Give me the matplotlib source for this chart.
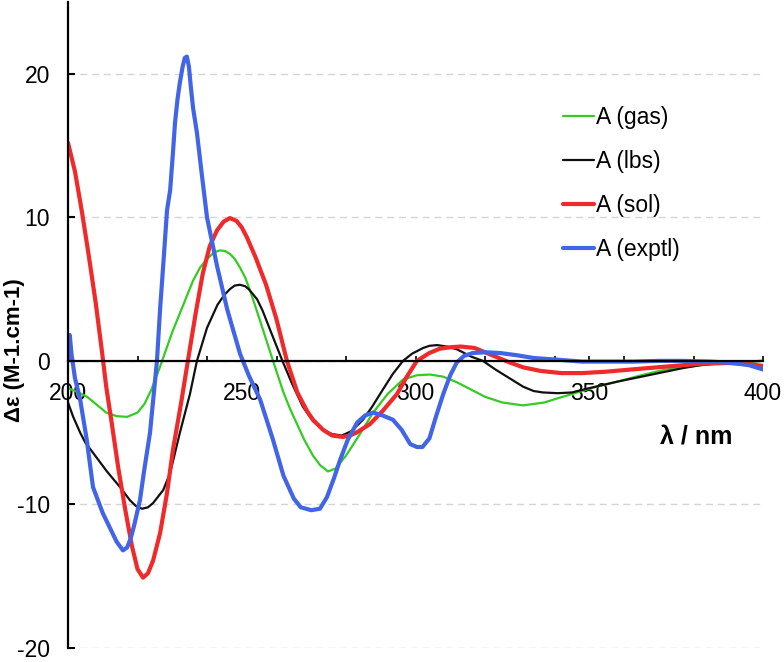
import matplotlib
matplotlib.use("Agg")
import matplotlib.pyplot as plt
from matplotlib.ticker import MultipleLocator

plt.rcParams['font.family'] = ['Liberation Sans', 'DejaVu Sans']
plt.rcParams['axes.unicode_minus'] = False

# ---- data ----
gas_x = [200, 203, 205.5, 208, 211, 214, 217, 220, 222, 224, 226.5, 230, 233, 236, 238, 240, 242,
         243.7, 245.2, 246.6, 248, 249.5, 251, 252.4, 255, 257, 259, 262, 264, 265.9, 268, 270.5,
         272.5, 274.8, 277, 280, 284, 287.8, 292, 296.4, 300.4, 304.2, 308, 312, 316, 320, 325,
         331, 337, 341, 346.5, 352, 358, 365, 372, 377, 382, 386, 391, 395, 400]
gas_y = [-1.9, -2.2, -2.5, -3.0, -3.6, -3.85, -3.9, -3.6, -3.0, -2.0, -0.4, 2.0, 3.8, 5.6, 6.5, 7.1, 7.55,
         7.7, 7.65, 7.45, 7.1, 6.5, 5.8, 4.9, 3.0, 1.5, 0.0, -2.2, -3.4, -4.4, -5.5, -6.6,
         -7.25, -7.7, -7.5, -6.6, -5.1, -3.6, -2.3, -1.3, -1.0, -0.95, -1.1, -1.5, -2.0, -2.5, -2.9,
         -3.1, -2.9, -2.6, -2.2, -1.8, -1.45, -1.0, -0.6, -0.45, -0.3, -0.2, -0.08, -0.05, 0.0]

lbs_x = [200, 201.5, 203.5, 205, 207.2, 211.2, 215, 217.8, 219.5, 221.3, 223, 224.5, 227.4, 229.4,
         232.2, 235.1, 237.1, 240, 243, 245, 246.6, 248, 249.5, 251, 252, 254.4, 256, 258.1, 261.7,
         264.5, 267.6, 270.5, 273.4, 276, 278.8, 281.5, 284.9, 287.5, 290.6, 293.5, 296.4, 299,
         302.2, 304, 306.2, 309, 312, 316, 319.4, 323, 327, 331, 334, 336.7, 341, 345, 350, 358,
         365, 372, 377, 382, 388, 394, 400]
lbs_y = [-2.9, -3.9, -5.0, -5.7, -6.4, -7.7, -8.8, -9.7, -10.1, -10.3, -10.2, -9.9, -9.0, -7.8,
         -5.0, -2.3, 0.0, 2.3, 3.9, 4.6, 5.0, 5.25, 5.3, 5.2, 5.0, 4.3, 3.5, 2.2, 0.0,
         -1.6, -3.2, -4.2, -4.8, -5.1, -5.2, -4.9, -4.1, -3.2, -2.0, -0.9, 0.0, 0.5,
         0.9, 1.05, 1.1, 1.0, 0.8, 0.3, 0.0, -0.6, -1.2, -1.8, -2.1, -2.2, -2.25, -2.2, -1.9, -1.45,
         -1.1, -0.75, -0.5, -0.3, -0.15, -0.05, 0.0]

sol_x = [200, 202, 204, 206, 208, 209.8, 211, 212.5, 214.5, 216.5, 218.4, 220, 221.6, 223, 224.5,
         226.5, 228.5, 230.2, 232.5, 234.5, 236.8, 238.8, 240.8, 242.9, 244.8, 246.6, 248.5, 250,
         251.5, 254, 257, 260, 263, 266, 268.8, 270.5, 273.4, 276, 279.1, 281, 283, 286.9, 290.5,
         294.7, 297.5, 300.4, 304, 307, 310, 313, 317, 320, 324, 327, 331, 336, 342, 348, 355,
         362, 372, 382, 390, 395, 400]
sol_y = [15.2, 13.2, 10.4, 7.3, 4.0, 0.6, -1.8, -4.2, -7.5, -10.4, -12.9, -14.5, -15.1, -14.8, -13.9,
         -12.0, -9.2, -6.2, -3.0, 0.0, 3.4, 6.1, 8.0, 9.1, 9.7, 9.95, 9.75, 9.3,
         8.6, 7.2, 5.3, 2.9, 0.0, -2.2, -3.5, -4.1, -4.8, -5.2, -5.3, -5.2, -5.0, -4.4, -3.5,
         -2.3, -1.1, 0.0, 0.55, 0.85, 0.95, 1.0, 0.9, 0.6, 0.2, -0.1, -0.45, -0.7, -0.85, -0.85, -0.75,
         -0.6, -0.4, -0.2, -0.15, -0.2, -0.35]

exp_x = [200, 200.5, 201, 202, 203.5, 205.4, 207.2, 210, 212, 214, 215.8, 217, 218, 219, 220.7,
         222, 223.6, 225.6, 226.5, 227.5, 228.5, 229.4, 230.2, 230.8, 231.5, 232.2, 233, 233.6, 234.2,
         234.8, 235.3, 236, 237.1, 238.5, 240, 242.9, 245.8, 249.5, 252, 255.3, 259, 262, 265, 267,
         270, 272.5, 274.5, 276.5, 278.3, 280.5, 283.2, 285.5, 287.8, 290.5, 293.5, 296, 298.5,
         300.4, 302, 304, 306, 308, 310, 311.9, 314, 316.5, 320, 324.3, 329, 334, 340, 348,
         355, 362.6, 370, 377, 385, 391.4, 396, 400]
exp_y = [0.0, 1.8, 0.5, -1.2, -2.7, -5.5, -8.8, -10.6, -11.6, -12.6, -13.2, -13.0, -12.4, -11.5, -9.7,
         -7.5, -5.0, 0.0, 3.6, 7.0, 10.5, 11.9, 14.5, 16.6, 18.2, 19.4, 20.5, 21.1, 21.2,
         20.5, 19.2, 17.6, 15.9, 13.0, 10.0, 6.6, 3.6, 0.5, -1.0, -2.7, -5.5, -8.0, -9.6, -10.2,
         -10.4, -10.3, -9.5, -8.2, -6.9, -5.5, -4.3, -3.8, -3.6, -3.8, -4.1, -4.8, -5.8,
         -6.0, -6.0, -5.4, -3.8, -2.3, -1.0, -0.1, 0.35, 0.55, 0.6, 0.55, 0.4, 0.2, 0.1, -0.05,
         -0.05, -0.05, 0.0, 0.0, -0.05, -0.15, -0.3, -0.6]

labels = ["A (gas)", "A (lbs)", "A (sol)", "A (exptl)"]
y_ticks = [-20, -10, 0, 10, 20]
x_ticks = [200, 250, 300, 350, 400]

# ---- figure ----
W, H = 784, 662
fig = plt.figure(figsize=(W / 100, H / 100), dpi=100)
ax = fig.add_axes([68 / W, 1 - 648 / H, (763 - 68) / W, (648 - 2) / H])

kw = dict(solid_joinstyle='round', solid_capstyle='round')
ax.plot(gas_x, gas_y, color='#33cc22', lw=1.6, label=labels[0], **kw)
ax.plot(lbs_x, lbs_y, color='#111111', lw=1.6, label=labels[1], **kw)
ax.plot(sol_x, sol_y, color='#f02a2a', lw=3.0, label=labels[2], **kw)
ax.plot(exp_x, exp_y, color='#4165e6', lw=3.0, label=labels[3], **kw)

ax.set_xlim(200, 400)
ax.set_ylim(-20, 25)

for s in ['top', 'right']:
    ax.spines[s].set_visible(False)
ax.spines['bottom'].set_position(('data', 0))
ax.spines['bottom'].set_linewidth(1.6)
ax.spines['left'].set_linewidth(1.6)

ax.set_yticks(y_ticks)
ax.set_yticklabels([str(v) for v in y_ticks])
ax.set_xticks(x_ticks)
ax.set_xticklabels([str(v) for v in x_ticks])
ax.xaxis.set_minor_locator(MultipleLocator(20))
ax.tick_params(axis='y', direction='in', length=5, width=1.5, labelsize=16.5, pad=13)
ax.tick_params(axis='x', which='both', direction='in', length=3.6, width=1.2, labelsize=16.5, pad=15)

ax.yaxis.grid(True, color='#d5d5d5', lw=1.0, linestyle=(0, (5, 3.5)))
ax.set_axisbelow(True)

ax.text(380.7, -5.3, "λ / nm", fontsize=18, fontweight='bold', ha='center', va='center')
fig.text(15 / W, 1 - 350 / H, "Δε (M-1.cm-1)", fontsize=16, fontweight='bold',
         rotation=90, ha='center', va='center')

ax.legend(loc='upper left', bbox_to_anchor=(563 / W, 1 - 106 / H), bbox_transform=fig.transFigure,
          frameon=False, fontsize=16.5, handlelength=1.35, handletextpad=0.1,
          labelspacing=0.92, borderpad=0, borderaxespad=0)

fig.savefig("out.png", dpi=100)
